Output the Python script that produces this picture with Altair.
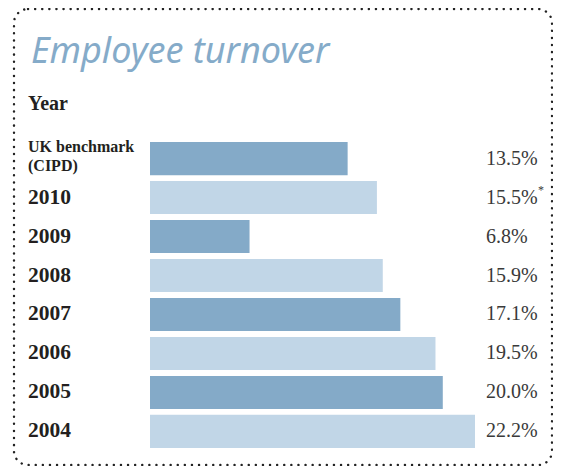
import altair as alt
import pandas as pd

categories = ["UK benchmark (CIPD)", "2010", "2009", "2008", "2007", "2006", "2005", "2004"]
display_labels = ["UK benchmark\n(CIPD)", "2010", "2009", "2008", "2007", "2006", "2005", "2004"]
values = [13.5, 15.5, 6.8, 15.9, 17.1, 19.5, 20.0, 22.2]
value_labels = ["13.5%", "15.5%", "6.8%", "15.9%", "17.1%", "19.5%", "20.0%", "22.2%"]
notes = ["", "*", "", "", "", "", "", ""]
shades = ["dark", "light", "dark", "light", "dark", "light", "dark", "light"]

title_text = "Employee turnover"
axis_title = "Year"

df = pd.DataFrame({
    "category": categories,
    "label": display_labels,
    "value": values,
    "vlabel": value_labels,
    "note": notes,
    "shade": shades,
})
df["is_uk"] = df["category"].str.startswith("UK")

W, H = 545, 458

y_enc = alt.Y("category:N", sort=categories,
              scale=alt.Scale(range=[134, 440], paddingInner=0.15, paddingOuter=0),
              axis=None)

base = alt.Chart(df)

bars = base.mark_bar().encode(
    x=alt.X("value:Q", scale=alt.Scale(domain=[0, 22.2], range=[142, 467]), axis=None),
    y=y_enc,
    color=alt.Color("shade:N", scale=alt.Scale(domain=["dark", "light"], range=["#84aac8", "#c1d6e7"]), legend=None),
)

year_labels = base.transform_filter("!datum.is_uk").mark_text(
    align="left", baseline="middle", font="Liberation Serif", fontWeight="bold",
    fontSize=21.5, color="#231f20"
).encode(x=alt.value(20), y=y_enc, text="label:N")

uk_label = base.transform_filter("datum.is_uk").mark_text(
    align="left", baseline="middle", font="Liberation Serif", fontWeight="bold",
    fontSize=16, color="#231f20", lineBreak="\n", lineHeight=19, dy=-12
).encode(x=alt.value(20), y=y_enc, text="label:N")

val_labels = base.mark_text(
    align="left", baseline="middle", font="Liberation Serif", fontSize=20, color="#3a3a3a"
).encode(x=alt.value(478), y=y_enc, text="vlabel:N")

note_labels = base.mark_text(
    align="left", baseline="middle", font="Liberation Serif", fontSize=12, color="#3a3a3a", dy=-8
).encode(x=alt.value(530), y=y_enc, text="note:N")

title_df = pd.DataFrame({"t": [title_text]})
title = alt.Chart(title_df).mark_text(
    align="left", baseline="alphabetic", font="Noto Sans", fontStyle="italic",
    fontSize=36, color="#85abc9"
).encode(x=alt.value(23), y=alt.value(55), text="t:N")

ytitle_df = pd.DataFrame({"t": [axis_title]})
ytitle = alt.Chart(ytitle_df).mark_text(
    align="left", baseline="alphabetic", font="Liberation Serif", fontWeight="bold",
    fontSize=20, color="#231f20"
).encode(x=alt.value(20), y=alt.value(102), text="t:N")

border = alt.Chart(title_df).mark_rect(
    filled=False, stroke="#222222", strokeWidth=2.4, strokeDash=[0.1, 7], strokeCap="round",
    cornerRadius=14
).encode(x=alt.value(6), x2=alt.value(544), y=alt.value(1), y2=alt.value(457))

chart = alt.layer(border, bars, year_labels, uk_label, val_labels, note_labels, title, ytitle).properties(
    width=W, height=H, padding=0, autosize=alt.AutoSizeParams(type="none")
).configure_view(stroke=None)

chart.save("out.html", embed_options={"renderer": "svg", "actions": False})
